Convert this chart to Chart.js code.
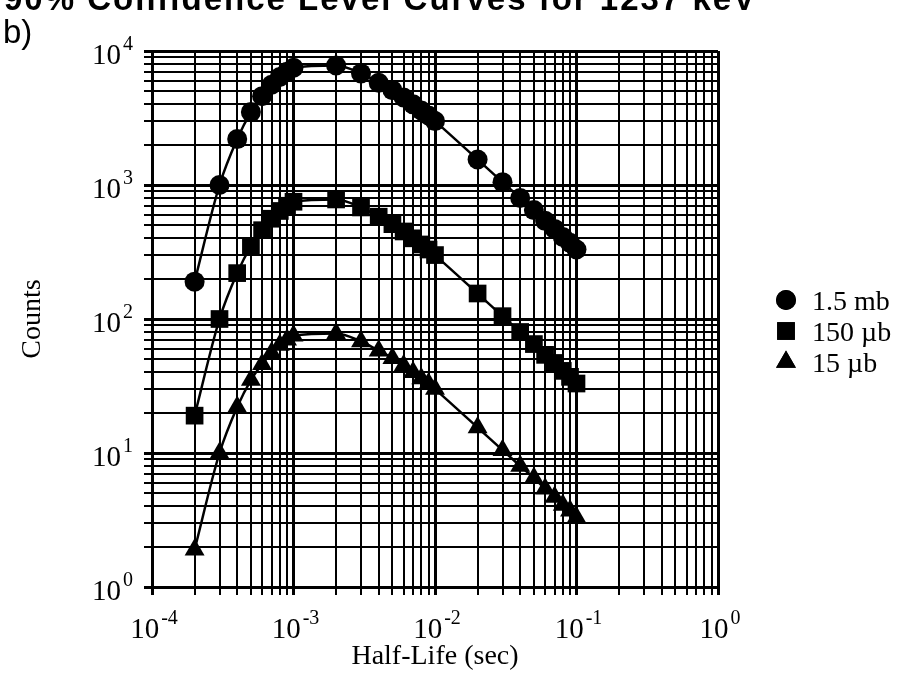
<!DOCTYPE html>
<html>
<head>
<meta charset="utf-8">
<script src="https://cdn.jsdelivr.net/npm/chart.js@4.4.0/dist/chart.umd.min.js"></script>
<style>
  html, body { margin: 0; padding: 0; background: #fff; }
  #wrap { width: 919px; height: 675px; position: relative; }
</style>
</head>
<body>
<div id="wrap"><canvas id="countsChart"></canvas></div>
<script>
// half-life values (sec) where the curves were sampled
const halfLives = [
  2e-4, 3e-4, 4e-4, 5e-4, 6e-4, 7e-4, 8e-4, 9e-4,
  1e-3, 2e-3, 3e-3, 4e-3, 5e-3, 6e-3, 7e-3, 8e-3, 9e-3,
  1e-2, 2e-2, 3e-2, 4e-2, 5e-2, 6e-2, 7e-2, 8e-2, 9e-2, 1e-1
];

// counts for each cross section
const counts1_5mb = [
  190, 1000, 2200, 3500, 4600, 5600, 6400, 7000,
  7500, 7800, 6800, 5800, 5100, 4500, 4000, 3600, 3300,
  3000, 1550, 1050, 800, 650, 540, 470, 410, 370, 330
];
const counts150ub = [
  19, 100, 220, 350, 460, 560, 640, 700,
  750, 780, 680, 580, 510, 450, 400, 360, 330,
  300, 155, 105, 80, 65, 54, 47, 41, 37, 33
];
const counts15ub = [
  1.9, 10, 22, 35, 46, 56, 64, 70,
  75, 78, 68, 58, 51, 45, 40, 36, 33,
  30, 15.5, 10.5, 8, 6.5, 5.4, 4.7, 4.1, 3.7, 3.3
];

const seriesLabels = ["1.5 mb", "150 \u00b5b", "15 \u00b5b"];
const xTickExps = [-4, -3, -2, -1, 0];
const yTickExps = [0, 1, 2, 3, 4];

// decade + 2..9 minor ticks
function logTicks(exps) {
  const ticks = [];
  for (let i = 0; i < exps.length; i++) {
    const base = Math.pow(10, exps[i]);
    ticks.push({ value: base, major: true });
    if (i < exps.length - 1) {
      for (let m = 2; m <= 9; m++) ticks.push({ value: m * base, major: false });
    }
  }
  return ticks;
}

function makeSet(label, values, style, radius) {
  return {
    label: label,
    data: halfLives.map((x, i) => ({ x: x, y: values[i] })),
    pointStyle: style,
    pointRadius: radius,
    pointHoverRadius: radius,
    pointBackgroundColor: "#000",
    pointBorderColor: "#000",
    pointBorderWidth: 0,
    borderColor: "#000",
    borderWidth: 2.5,
    backgroundColor: "#000",
    tension: 0.4,
    cubicInterpolationMode: "monotone",
    fill: false
  };
}

const serif = '"Liberation Serif", "DejaVu Serif", serif';

// draws "10" with a raised exponent
function powerLabel(ctx, exp, x, y, align, size) {
  const base = "10";
  const sup = String(exp);
  ctx.font = size + "px " + serif;
  const wBase = ctx.measureText(base).width;
  ctx.font = Math.round(size * 0.68) + "px " + serif;
  const wSup = ctx.measureText(sup).width + 2;
  let left = x;
  if (align === "center") left = x - (wBase + wSup) / 2;
  if (align === "right") left = x - (wBase + wSup);
  ctx.textAlign = "left";
  ctx.textBaseline = "alphabetic";
  ctx.font = size + "px " + serif;
  ctx.fillText(base, left, y);
  ctx.font = Math.round(size * 0.68) + "px " + serif;
  ctx.fillText(sup, left + wBase + 2, y - size * 0.5);
}

const decorations = {
  id: "decorations",
  afterDraw(chart) {
    const ctx = chart.ctx;
    const xs = chart.scales.x;
    const ys = chart.scales.y;
    ctx.save();
    ctx.fillStyle = "#000";

    // cut-off heading at the very top
    ctx.font = 'bold 33px "Liberation Sans", sans-serif';
    ctx.textAlign = "left";
    ctx.textBaseline = "alphabetic";
    if ("letterSpacing" in ctx) ctx.letterSpacing = "2px";
    ctx.fillText("90% Confidence Level Curves for 1237 keV", 4, 10);
    if ("letterSpacing" in ctx) ctx.letterSpacing = "0px";
    ctx.font = '33px "Liberation Sans", sans-serif';
    ctx.fillText("b)", 3, 43);

    // tick labels
    xTickExps.forEach(e => {
      powerLabel(ctx, e, xs.getPixelForValue(Math.pow(10, e)) + 2, 638, "center", 29);
    });
    yTickExps.forEach(e => {
      powerLabel(ctx, e, 133, ys.getPixelForValue(Math.pow(10, e)) + 13, "right", 29);
    });

    // axis titles
    ctx.font = "28px " + serif;
    ctx.textAlign = "center";
    ctx.fillText("Half-Life (sec)", (xs.left + xs.right) / 2, 664);
    ctx.save();
    ctx.translate(33, (ys.top + ys.bottom) / 2);
    ctx.rotate(-Math.PI / 2);
    ctx.textBaseline = "middle";
    ctx.fillText("Counts", 0, 0);
    ctx.restore();

    // legend
    chart.data.datasets.forEach((ds, i) => {
      const y = 300 + i * 31;
      Chart.helpers.drawPoint(ctx, { pointStyle: ds.pointStyle, radius: ds.pointRadius, rotation: 0, borderWidth: 0 }, 786, y);
      ctx.fill();
      ctx.font = "28px " + serif;
      ctx.textAlign = "left";
      ctx.textBaseline = "alphabetic";
      ctx.fillText(seriesLabels[i], 812, y + 10);
    });
    ctx.restore();
  }
};

new Chart(document.getElementById("countsChart"), {
  type: "line",
  data: {
    datasets: [
      makeSet(seriesLabels[0], counts1_5mb, "circle", 10),
      makeSet(seriesLabels[1], counts150ub, "rect", 12.5),
      makeSet(seriesLabels[2], counts15ub, "triangle", 11.5)
    ]
  },
  options: {
    responsive: true,
    maintainAspectRatio: false,
    animation: false,
    layout: { padding: { left: 144, right: 201, top: 51, bottom: 80 } },
    plugins: {
      legend: { display: false },
      tooltip: { enabled: false }
    },
    scales: {
      x: {
        type: "logarithmic",
        min: 1e-4,
        max: 1,
        afterBuildTicks: s => { s.ticks = logTicks(xTickExps); },
        ticks: { display: false, autoSkip: false },
        grid: {
          color: "#000",
          lineWidth: c => (c.tick && c.tick.major ? 3 : 2),
          drawTicks: true,
          tickLength: 8,
          tickColor: "#000"
        },
        border: { display: true, color: "#000", width: 3 }
      },
      y: {
        type: "logarithmic",
        min: 1,
        max: 1e4,
        afterBuildTicks: s => { s.ticks = logTicks(yTickExps); },
        ticks: { display: false, autoSkip: false },
        grid: {
          color: "#000",
          lineWidth: c => (c.tick && c.tick.major ? 3 : 2),
          drawTicks: true,
          tickLength: 8,
          tickColor: "#000"
        },
        border: { display: true, color: "#000", width: 3 }
      }
    }
  },
  plugins: [decorations]
});
</script>
</body>
</html>
